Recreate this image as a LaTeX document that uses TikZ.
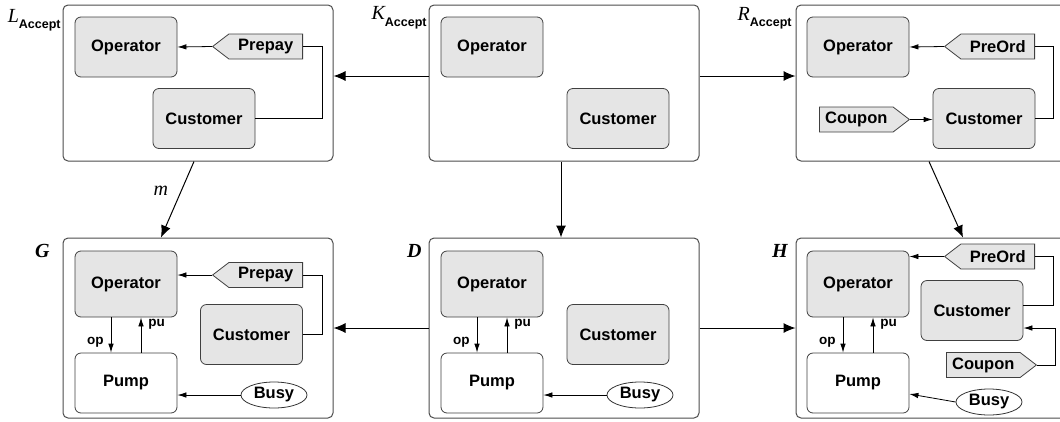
\documentclass[tikz,border=0pt]{standalone}
\usepackage{fontspec}
\setmainfont{Liberation Serif}
\setsansfont{Liberation Sans}
\usepackage{tikz}
\usetikzlibrary{shapes.geometric, shapes.symbols, arrows.meta}
\tikzstyle{mor} = [line width=1pt,-{Latex[length=12pt,width=10pt]}]
\tikzstyle{msg} = [line width=0.8pt,-{Latex[length=9pt,width=5.5pt]}]

\begin{document}
\begin{tikzpicture}[x=1pt, y=-1pt, line width=0.8pt,
    graph/.style={draw=black!70, line width=1pt, rounded corners=5pt, minimum width=270pt, inner sep=0pt},
    comp/.style={draw=black!75, fill=black!10, rounded corners=6pt, minimum width=102pt, minimum height=60pt, inner sep=0pt, font=\fontsize{16.5}{19}\selectfont\sffamily\bfseries},
    pump/.style={comp, fill=white},
    tagin/.style={signal, signal to=west, signal pointer angle=75, draw=black!75, fill=black!10, minimum width=90pt, minimum height=25pt, inner ysep=3pt, inner xsep=0pt, anchor=east, font=\fontsize{16.5}{19}\selectfont\sffamily\bfseries},
    tagout/.style={tagin, signal to=east, anchor=west},
    flag/.style={ellipse, draw=black!80, fill=white, minimum width=66pt, minimum height=26pt, inner sep=0pt, font=\fontsize{16.5}{19}\selectfont\sffamily\bfseries},
    port/.style={inner sep=0pt, font=\fontsize{13.5}{16}\selectfont\sffamily\bfseries},
    rname/.style={inner sep=0pt, font=\fontsize{20}{24}\selectfont\itshape},
    gname/.style={inner sep=0pt, font=\fontsize{20}{24}\selectfont\bfseries\itshape}]

      \useasboundingbox (0,0) rectangle (1060,421);

      % Graphs
      \node[graph, minimum height=156pt] (L) at (198,83) {};
      \node[graph, minimum height=156pt] (K) at (564,83) {};
      \node[graph, minimum height=156pt] (R) at (931,83) {};
      \node[graph, minimum height=180pt] (G) at (198,328) {};
      \node[graph, minimum height=180pt] (D) at (564,328) {};
      \node[graph, minimum height=180pt] (H) at (931,328) {};

      % Names
      \node[rname, anchor=base east] at (61,22) {L\raisebox{-6pt}{\fontsize{12.5}{14}\selectfont\upshape\sffamily\bfseries Accept}};
      \node[rname, anchor=base east] at (427,19) {K\raisebox{-7pt}{\fontsize{12.5}{14}\selectfont\upshape\sffamily\bfseries Accept}};
      \node[rname, anchor=base east] at (792,20) {R\raisebox{-6pt}{\fontsize{12.5}{14}\selectfont\upshape\sffamily\bfseries Accept}};
      \node[gname, anchor=base east] at (50,257) {G};
      \node[gname, anchor=base east] at (422,257) {D};
      \node[gname, anchor=base east] at (788,257) {H};

      % L
      \node[comp] (LOp) at (126,47) {Operator};
      \node[tagin] (LPre) at (303,46.5) {Prepay};
      \node[comp] (LCu) at (204,118.5) {Customer};
      \draw[msg] (LPre.west) -- (LOp.east);
      \draw (LCu.east) -| ([xshift=19pt]LPre.east) -- (LPre.east);

      % K
      \node[comp] (KOp) at (492,47) {Operator};
      \node[comp] (KCu) at (618,118.5) {Customer};

      % R
      \node[comp] (ROp) at (858,47) {Operator};
      \node[tagin] (RPre) at (1035,46.5) {PreOrd};
      \node[comp] (RCu) at (984,118.5) {Customer};
      \node[tagout] (RCo) at (819,119.5) {Coupon};
      \draw[msg] (RPre.west) -- (ROp.east);
      \draw (RCu.east) -| ([xshift=18pt]RPre.east) -- (RPre.east);
      \draw[msg] (RCo.east) -- (RCo.east -| RCu.west);

      % G
      \node[comp, minimum height=66pt] (GOp) at (126,284) {Operator};
      \node[tagin] (GPre) at (303,275) {Prepay};
      \node[comp] (GCu) at (251.5,334.5) {Customer};
      \node[pump] (GPu) at (126,383) {Pump};
      \node[flag] (GBusy) at (274,395) {Busy};
      \draw[msg] (GPre.west) -- (GPre.west -| GOp.east);
      \draw (GCu.east) -| ([xshift=19pt]GPre.east) -- (GPre.east);
      \draw[msg] ([xshift=-15pt]GOp.south) -- node[port, pos=0.72, left=7pt] {op} ([xshift=-15pt]GPu.north);
      \draw[msg] ([xshift=15pt]GPu.north) -- node[port, pos=0.8, right=7pt] {pu} ([xshift=15pt]GOp.south);
      \draw[msg] (GBusy.west) -- (GBusy.west -| GPu.east);

      % D
      \node[comp, minimum height=66pt] (DOp) at (492,284) {Operator};
      \node[comp] (DCu) at (618,334.5) {Customer};
      \node[pump] (DPu) at (492,383) {Pump};
      \node[flag] (DBusy) at (640,395) {Busy};
      \draw[msg] ([xshift=-15pt]DOp.south) -- node[port, pos=0.72, left=7pt] {op} ([xshift=-15pt]DPu.north);
      \draw[msg] ([xshift=15pt]DPu.north) -- node[port, pos=0.8, right=7pt] {pu} ([xshift=15pt]DOp.south);
      \draw[msg] (DBusy.west) -- (DBusy.west -| DPu.east);

      % H
      \node[comp, minimum height=66pt] (HOp) at (858,284) {Operator};
      \node[tagin] (HPre) at (1035,256.5) {PreOrd};
      \node[comp] (HCu) at (972,310.5) {Customer};
      \node[tagout] (HCo) at (946,365) {Coupon};
      \node[pump] (HPu) at (858,383) {Pump};
      \node[flag] (HBusy) at (989,402) {Busy};
      \draw[msg] (HPre.west) -- (HPre.west -| HOp.east);
      \draw ([yshift=5.5pt]HCu.east) -| ([xshift=18pt]HPre.east) -- (HPre.east);
      \draw[msg] (HCo.east) -- ++(18,0) |- ([yshift=-17.5pt]HCu.east);
      \draw[msg] ([xshift=-15pt]HOp.south) -- node[port, pos=0.72, left=7pt] {op} ([xshift=-15pt]HPu.north);
      \draw[msg] ([xshift=15pt]HPu.north) -- node[port, pos=0.8, right=7pt] {pu} ([xshift=15pt]HOp.south);
      \draw[msg] (HBusy.west) -- ([yshift=-11pt]HPu.east);

      % Rule morphisms
      \draw[mor] ([yshift=7pt]K.west) -- ([yshift=7pt]L.east);
      \draw[mor] ([yshift=7pt]K.east) -- ([yshift=7pt]R.west);
      \draw[mor] ([xshift=-3pt]K.south) -- ([xshift=-3pt]D.north);
      \draw[mor] ([xshift=-4pt]L.south) -- node[rname, pos=0.38, left=13pt] {m} ([xshift=-37pt]G.north);
      \draw[mor] ([xshift=-2pt]R.south) -- ([xshift=32pt]H.north);
      \draw[mor] (D.west) -- (G.east);
      \draw[mor] (D.east) -- (H.west);

  \end{tikzpicture}
\end{document}
